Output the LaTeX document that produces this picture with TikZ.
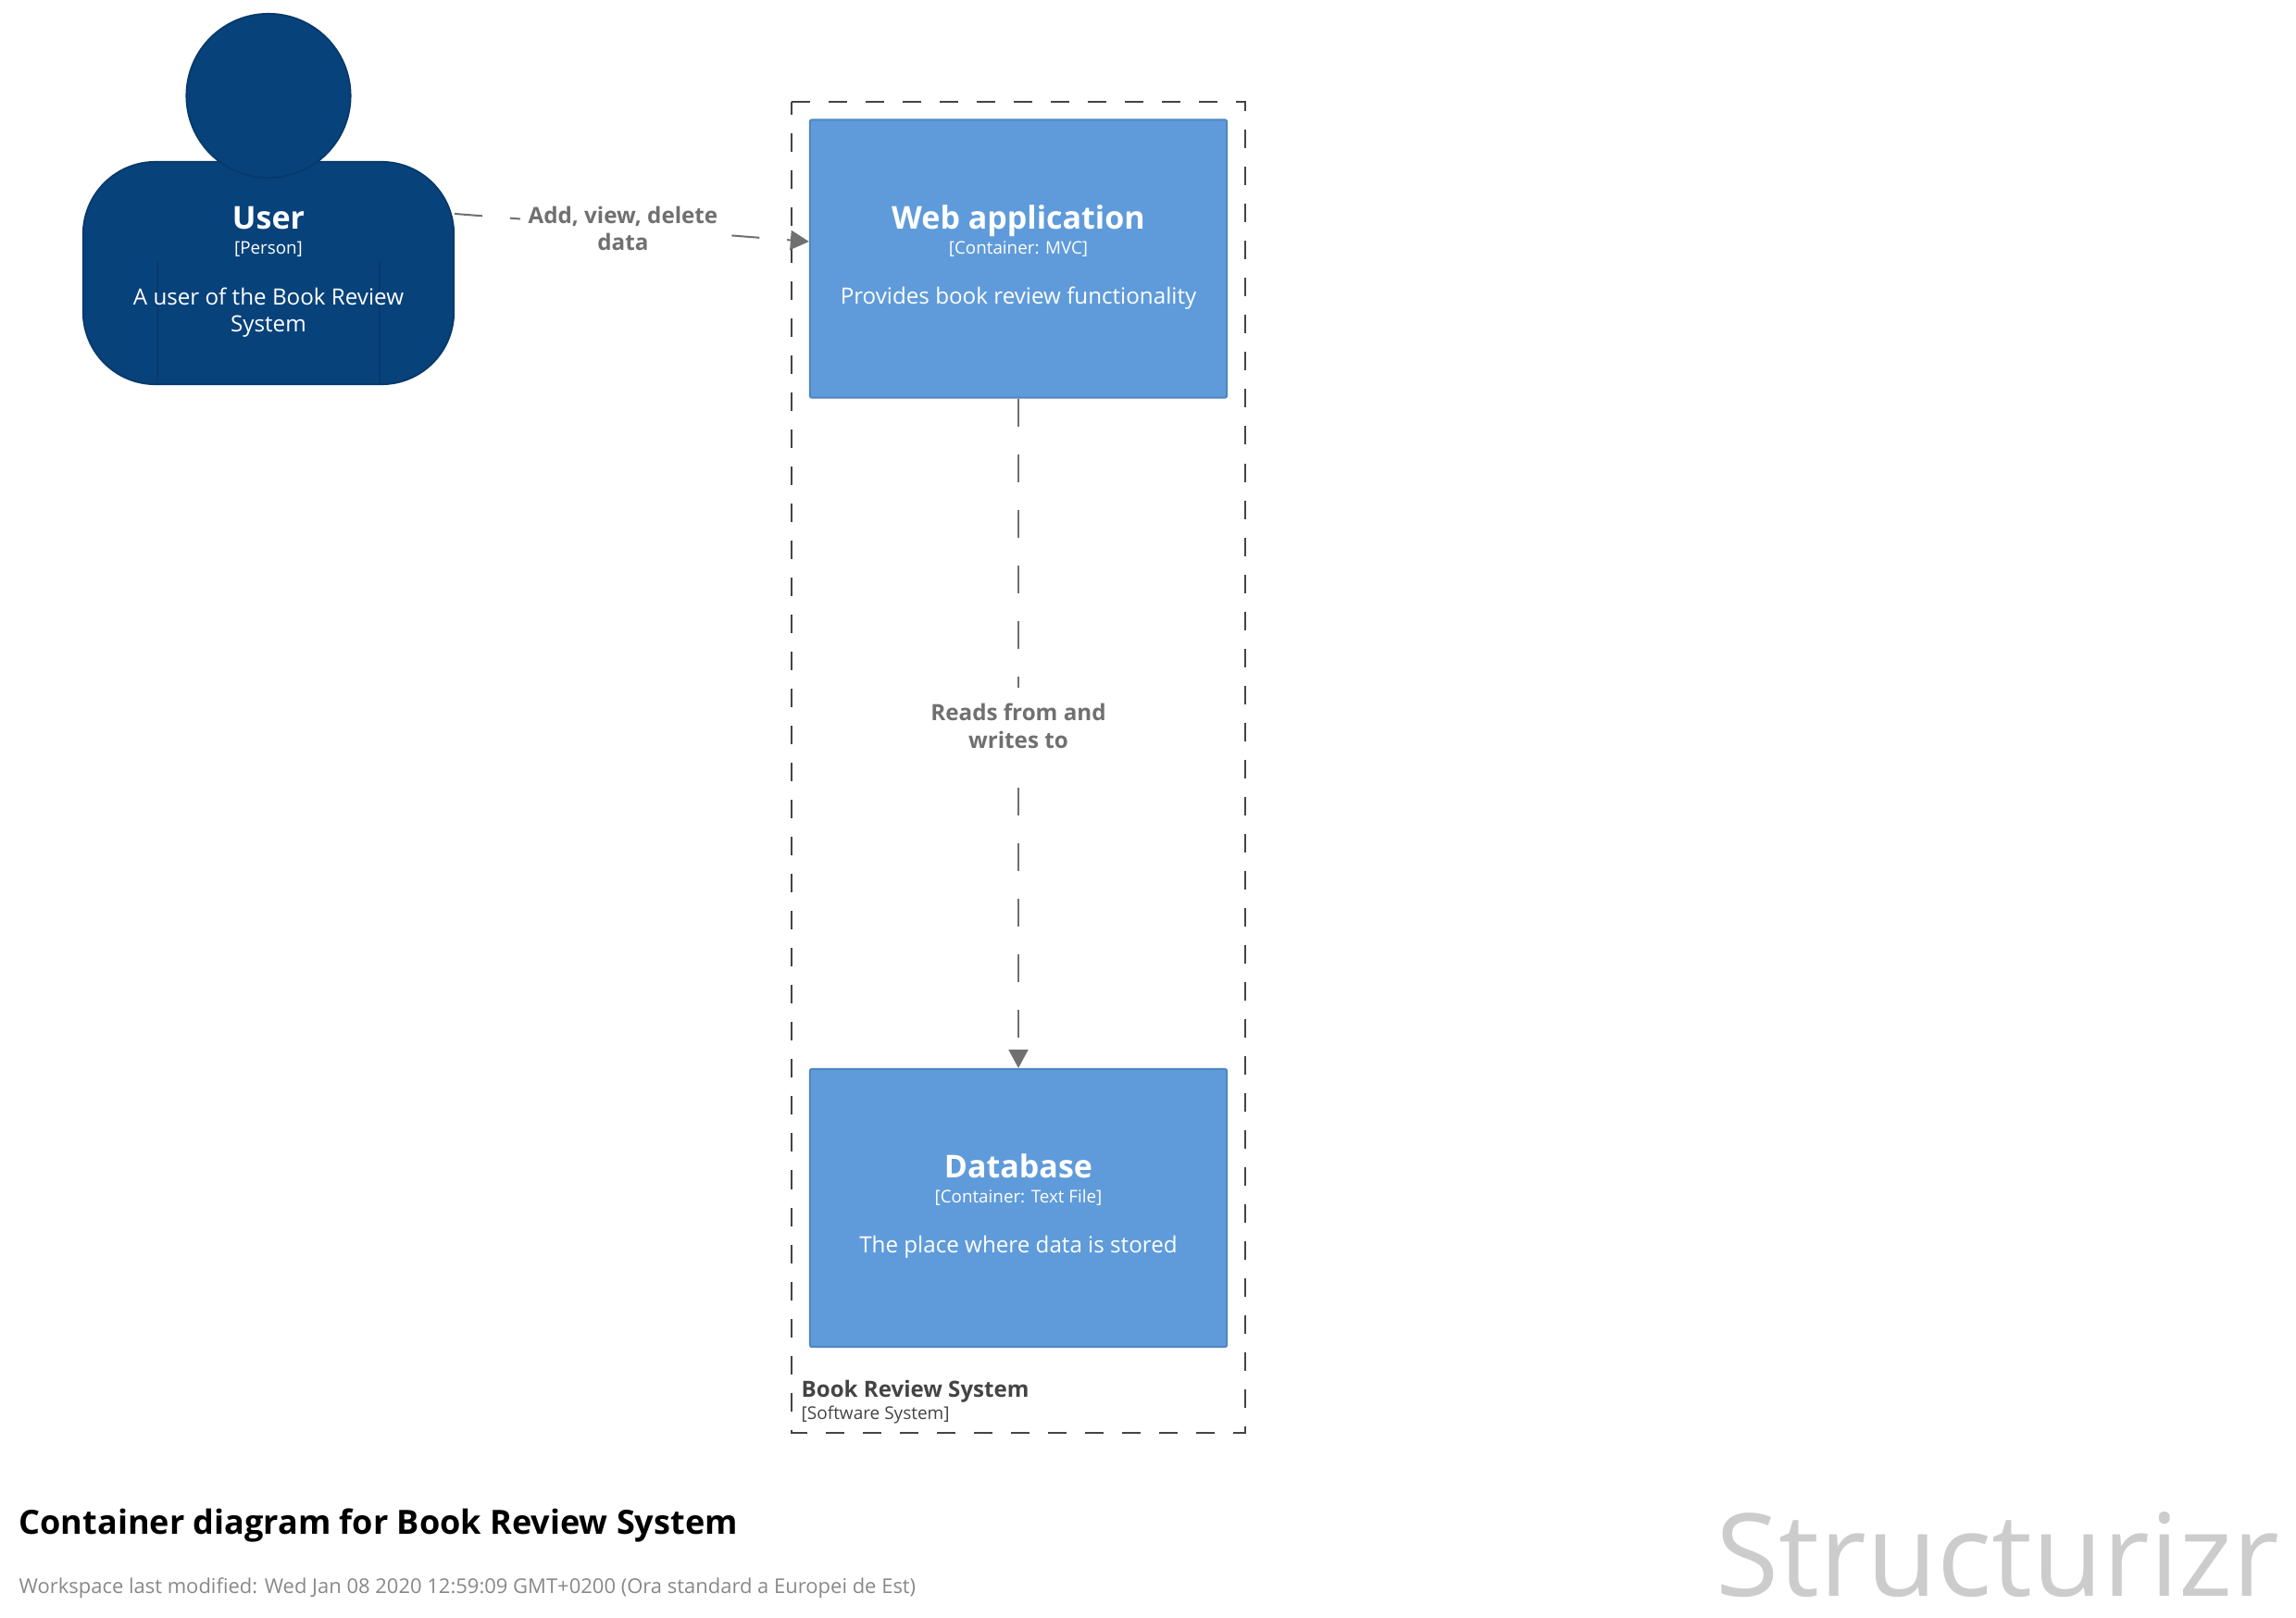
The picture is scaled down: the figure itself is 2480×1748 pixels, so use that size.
\documentclass[tikz,border=0pt]{standalone}
\usepackage{fontspec}
\setmainfont{Open Sans}
\usepackage{xcolor}
\usetikzlibrary{arrows.meta}
\definecolor{persondark}{HTML}{08427B}
\definecolor{personedge}{HTML}{073A6C}
\definecolor{containerblue}{HTML}{5F9BDA}
\definecolor{containeredge}{HTML}{4F86C2}
\definecolor{connectorgrey}{HTML}{707070}
\definecolor{boundarygrey}{HTML}{444444}
\definecolor{footergrey}{HTML}{888888}
\definecolor{logogrey}{HTML}{CCCCCC}
\newcommand{\fsize}[1]{\fontsize{#1}{#1}\selectfont}
\newcommand{\boxname}[1]{{\fsize{9.67}\bfseries #1}}
\newcommand{\boxkind}[1]{{\fsize{5.35}#1}}
\tikzset{
	personbody/.style={draw=personedge,fill=persondark,line width=0.02cm,rounded corners=0.78cm,minimum width=4.00cm,minimum height=2.40cm,inner sep=0},
	personhead/.style={circle,draw=personedge,fill=persondark,line width=0.02cm,minimum size=1.77cm,inner sep=0},
	personline/.style={draw=personedge,line width=0.015cm},
	containerbox/.style={draw=containeredge,fill=containerblue,line width=0.02cm,rounded corners=0.02cm,minimum width=4.50cm,minimum height=3.00cm,inner sep=0},
	boxtext/.style={text=white,align=center,anchor=north,inner sep=0,font=\fontsize{6.88}{8.3}\selectfont},
	connector/.style={draw=connectorgrey,line width=0.02cm,dash pattern=on 0.3cm off 0.3cm,-{Triangle[length=0.2cm,width=0.21cm]}},
	connlabel/.style={fill=white,text=connectorgrey,align=center,inner xsep=0.09cm,inner ysep=0.17cm,font=\fontsize{6.88}{8.3}\selectfont\bfseries},
	boundary/.style={draw=boundarygrey,line width=0.02cm,dash pattern=on 0.2cm off 0.2cm}
}
\begin{document}
\begin{tikzpicture}[x=0.01cm,y=-0.01cm]
	\useasboundingbox (0,0) rectangle (2480,1748);
	% Boundary
	\draw [boundary] (855,110) -- (1345,110) -- (1345,1548) -- (855,1548) -- cycle;
	\node [anchor=base west,inner sep=0,text=boundarygrey,font=\fontsize{6.85}{8}\selectfont\bfseries] (sysname) at (865,1509) {Book Review System};
	\node [anchor=base west,inner sep=0,text=boundarygrey,font=\fontsize{5.4}{7}\selectfont] (syskind) at (865,1533) {[Software System]};
	% Person
	\node [personbody] (user) at (290,295) {};
	\foreach \x in {170,410}
	\draw [personline] (\x,282)--(\x,416);
	\node [personhead] (head) at (290,103.5) {};
	\node [boxtext] (usertext) at (290,222.5) {\boxname{User}\\[-0.6pt]\boxkind{[Person]}\\[7.4pt]A user of the Book Review\\System};
	% Containers
	\node [containerbox] (web) at (1100,279.5) {};
	\node [boxtext] (webtext) at (1100,221) {\boxname{Web application}\\[-0.6pt]\boxkind{[Container: MVC]}\\[6.9pt]Provides book review functionality};
	\node [containerbox] (db) at (1100,1305) {};
	\node [boxtext] (dbtext) at (1100,1246) {\boxname{Database}\\[-0.6pt]\boxkind{[Container: Text File]}\\[6.9pt]The place where data is stored};
	% Connectors
	\draw [connector] ([yshift=0.64cm]user.east) -- node [connlabel,pos=0.475,yshift=-0.015cm] (addlabel) {Add, view, delete\\data} ([yshift=0.185cm]web.west);
	\draw [connector] (web.south) -- node [connlabel,pos=0.489] (readlabel) {Reads from and\\writes to} (db.north);
	% Title
	\node [anchor=base west,inner sep=0,text=black,font=\fontsize{10.25}{12}\selectfont\bfseries] (title) at (20,1657) {Container diagram for Book Review System};
	\node [anchor=base west,inner sep=0,text=footergrey,font=\fontsize{6.25}{8}\selectfont] (footer) at (20,1721) {Workspace last modified: Wed Jan 08 2020 12:59:09 GMT+0200 (Ora standard a Europei de Est)};
	\node [anchor=base east,inner sep=0,text=logogrey,font=\fontsize{35.3}{40}\selectfont] (logo) at (2463,1724) {Structurizr};
\end{tikzpicture}
\end{document}
